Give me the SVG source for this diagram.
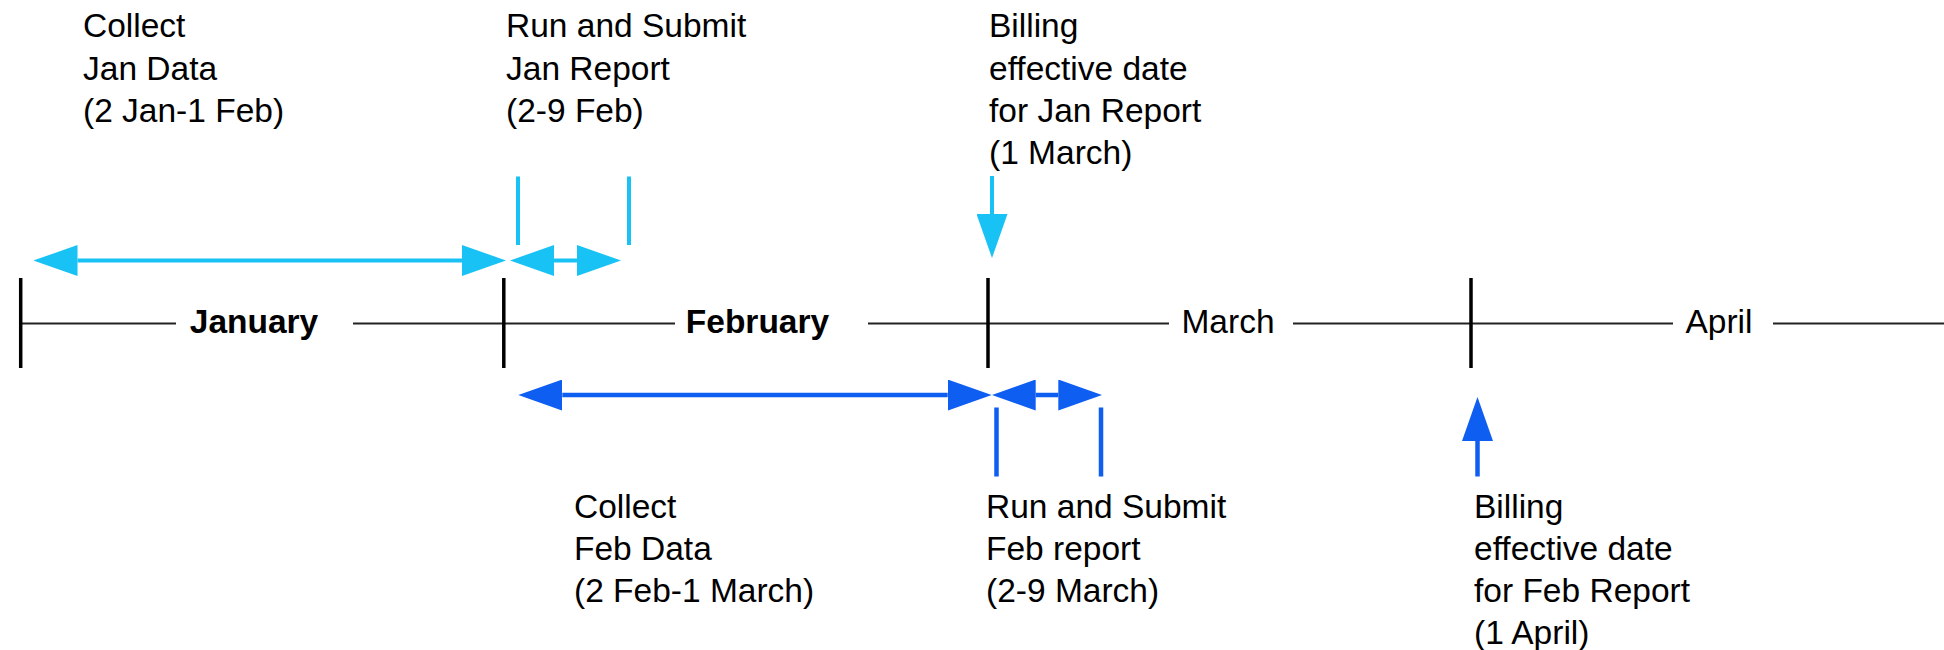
<svg xmlns="http://www.w3.org/2000/svg" width="1944" height="650" viewBox="0 0 1944 650">
<style>
text{font-family:"Liberation Sans",Arial,sans-serif;font-size:33.5px;fill:#000}
.month{text-anchor:middle}
.bold{font-weight:bold}
.axis{stroke:#222;stroke-width:2;fill:none}
.tick{stroke:#000;stroke-width:3.5;fill:none}
.cyan{stroke:#18C2F4;stroke-width:4;fill:none}
.blue{stroke:#0F5EF2;stroke-width:4.5;fill:none}
</style>
<defs>
<marker id="hc" viewBox="0 0 44 31" refX="0" refY="15.5" markerWidth="44" markerHeight="31" markerUnits="userSpaceOnUse" orient="auto-start-reverse"><path d="M0,0 L44,15.5 L0,31 Z" fill="#18C2F4"/></marker>
<marker id="hb" viewBox="0 0 44 31" refX="0" refY="15.5" markerWidth="44" markerHeight="31" markerUnits="userSpaceOnUse" orient="auto-start-reverse"><path d="M0,0 L44,15.5 L0,31 Z" fill="#0F5EF2"/></marker>
</defs>
<g id="timeline">
<path class="axis" d="M20.7,323.5 H176 M353,323.5 H675 M868,323.5 H1169 M1293,323.5 H1673 M1773,323.5 H1944"/>
<path class="tick" d="M20.7,278 V368 M503.8,278 V368 M988,278 V368 M1471,278 V368"/>
<text class="month bold" x="254" y="333">January</text>
<text class="month bold" x="757.5" y="333">February</text>
<text class="month" x="1228" y="333">March</text>
<text class="month" x="1719" y="333">April</text>
</g>
<g id="connectors">
<line class="cyan" x1="77.5" y1="260.5" x2="462" y2="260.5" marker-start="url(#hc)" marker-end="url(#hc)"/>
<line class="cyan" x1="554" y1="260.5" x2="577" y2="260.5" marker-start="url(#hc)" marker-end="url(#hc)"/>
<path class="cyan" d="M518,176.5 V245 M629,176.5 V245"/>
<line class="cyan" x1="992" y1="176" x2="992" y2="214" marker-end="url(#hc)"/>
<line class="blue" x1="562.3" y1="395" x2="947.7" y2="395" marker-start="url(#hb)" marker-end="url(#hb)"/>
<line class="blue" x1="1035.7" y1="395" x2="1058.3" y2="395" marker-start="url(#hb)" marker-end="url(#hb)"/>
<path class="blue" d="M996.5,407.5 V476.5 M1101,407.5 V476.5"/>
<line class="blue" x1="1477.5" y1="476.5" x2="1477.5" y2="441" marker-end="url(#hb)"/>
</g>
<g id="collect-jan">
<text x="83" y="37">Collect</text>
<text x="83" y="79.5">Jan Data</text>
<text x="83" y="122">(2 Jan-1 Feb)</text>
</g>
<g id="submit-jan">
<text x="506" y="37">Run and Submit</text>
<text x="506" y="79.5">Jan Report</text>
<text x="506" y="122">(2-9 Feb)</text>
</g>
<g id="billing-jan">
<text x="989" y="37">Billing</text>
<text x="989" y="79.5">effective date</text>
<text x="989" y="122">for Jan Report</text>
<text x="989" y="164">(1 March)</text>
</g>
<g id="collect-feb">
<text x="574" y="518">Collect</text>
<text x="574" y="560">Feb Data</text>
<text x="574" y="602">(2 Feb-1 March)</text>
</g>
<g id="submit-feb">
<text x="986" y="518">Run and Submit</text>
<text x="986" y="560">Feb report</text>
<text x="986" y="602">(2-9 March)</text>
</g>
<g id="billing-feb">
<text x="1474" y="518">Billing</text>
<text x="1474" y="560">effective date</text>
<text x="1474" y="602">for Feb Report</text>
<text x="1474" y="644">(1 April)</text>
</g>
</svg>
